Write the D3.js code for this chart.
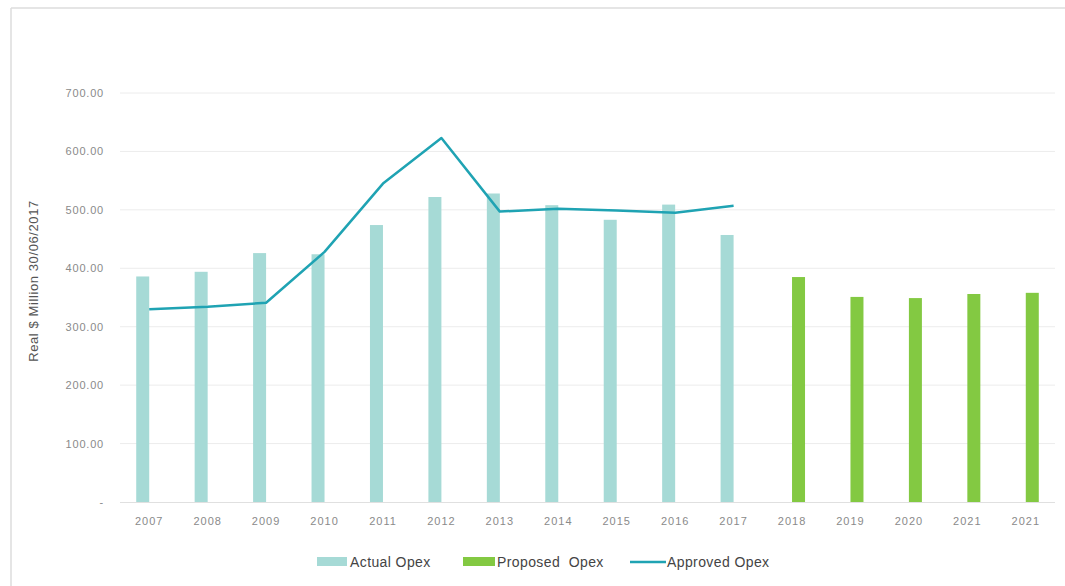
<!DOCTYPE html>
<html>
<head>
<meta charset="utf-8">
<script src="https://cdn.jsdelivr.net/npm/d3@7"></script>
<style>
  body { margin: 0; background: #fff; }
  svg { font-family: "Liberation Sans", Arial, sans-serif; }
  text { white-space: pre; }
</style>
</head>
<body>
<svg id="chart" width="1065" height="586"></svg>
<script>
// data
var years = ["2007", "2008", "2009", "2010", "2011", "2012", "2013", "2014", "2015", "2016", "2017",
             "2018", "2019", "2020", "2021", "2021"];
var actualOpex = [386, 394, 426, 424, 474, 522, 528, 508, 483, 509, 457, null, null, null, null, null];
var proposedOpex = [null, null, null, null, null, null, null, null, null, null, null, 385, 351, 349, 356, 358];
var approvedOpex = [330, 334, 341, 428, 545, 623, 497, 502, 499, 495, 507];
var yTicks = [0, 100, 200, 300, 400, 500, 600, 700];

var svg = d3.select("#chart");

var plotLeft = 120, plotRight = 1055, plotTop = 93, plotBottom = 502;

var x = d3.scaleBand()
    .domain(d3.range(years.length))
    .range([plotLeft, plotRight]);

var y = d3.scaleLinear()
    .domain([0, 700])
    .range([plotBottom, plotTop]);

var barW = 13;

// frame
svg.append("line").attr("x1", 11).attr("x2", 1065).attr("y1", 8).attr("y2", 8)
    .style("stroke", "#dcdcdc").style("stroke-width", 1.5);
svg.append("line").attr("x1", 11).attr("x2", 11).attr("y1", 8).attr("y2", 586)
    .style("stroke", "#dcdcdc").style("stroke-width", 1.5);

// gridlines
svg.selectAll(".grid").data(yTicks.slice(1)).enter().append("line")
    .attr("x1", plotLeft).attr("x2", plotRight)
    .attr("y1", function (d) { return y(d); })
    .attr("y2", function (d) { return y(d); })
    .style("stroke", "#ececec").style("stroke-width", 1);

svg.append("line").attr("x1", plotLeft).attr("x2", plotRight).attr("y1", plotBottom + 0.5).attr("y2", plotBottom + 0.5)
    .style("stroke", "#e0e0e0");

// y tick labels
svg.selectAll(".ytick").data(yTicks).enter().append("text")
    .attr("x", 104)
    .attr("y", function (d) { return y(d) + 4; })
    .attr("text-anchor", "end")
    .style("font-size", "11px")
    .style("letter-spacing", "0.8px")
    .style("fill", "#8a8a8a")
    .text(function (d) { return d === 0 ? "-" : d3.format(".2f")(d); });

// x labels
svg.selectAll(".xtick").data(years).enter().append("text")
    .attr("x", function (d, i) { return x(i) + x.bandwidth() / 2; })
    .attr("y", 525)
    .attr("text-anchor", "middle")
    .style("font-size", "11px")
    .style("letter-spacing", "1px")
    .style("fill", "#8a8a8a")
    .text(function (d) { return d; });

// y title
svg.append("text")
    .attr("transform", "translate(38,281) rotate(-90)")
    .attr("text-anchor", "middle")
    .style("font-size", "13px")
    .style("letter-spacing", "0.6px")
    .style("fill", "#555")
    .text("Real $ Million 30/06/2017");

// actual bars (left slot of cluster)
for (var i = 0; i < years.length; i++) {
    if (actualOpex[i] != null) {
        svg.append("rect")
            .attr("x", x(i) + x.bandwidth() / 2 - barW)
            .attr("y", y(actualOpex[i]))
            .attr("width", barW)
            .attr("height", y(0) - y(actualOpex[i]))
            .style("fill", "#a6dad6");
    }
}

// proposed bars (right slot of cluster)
for (var i = 0; i < years.length; i++) {
    if (proposedOpex[i] != null) {
        svg.append("rect")
            .attr("x", x(i) + x.bandwidth() / 2)
            .attr("y", y(proposedOpex[i]))
            .attr("width", barW)
            .attr("height", y(0) - y(proposedOpex[i]))
            .style("fill", "#83c942");
    }
}

// approved line
var line = d3.line()
    .x(function (d, i) { return x(i) + x.bandwidth() / 2; })
    .y(function (d) { return y(d); });

svg.append("path")
    .datum(approvedOpex)
    .attr("d", line)
    .style("fill", "none")
    .style("stroke", "#1fa3b3")
    .style("stroke-width", 2.5)
    .style("stroke-linejoin", "round");

// legend
var lg = svg.append("g").attr("transform", "translate(0,562)")
    .style("font-size", "14px").style("fill", "#444");
lg.append("rect").attr("x", 317).attr("y", -5).attr("width", 30).attr("height", 9).style("fill", "#a6dad6");
lg.append("text").attr("x", 350).attr("y", 5).style("letter-spacing", "0.4px").text("Actual Opex");
lg.append("rect").attr("x", 463).attr("y", -5).attr("width", 32).attr("height", 9).style("fill", "#83c942");
lg.append("text").attr("x", 497).attr("y", 5).style("letter-spacing", "0.4px").text("Proposed  Opex");
lg.append("line").attr("x1", 630).attr("x2", 666).attr("y1", 0).attr("y2", 0)
    .style("stroke", "#1fa3b3").style("stroke-width", 2.5);
lg.append("text").attr("x", 667).attr("y", 5).style("letter-spacing", "0.4px").text("Approved Opex");
</script>
</body>
</html>
